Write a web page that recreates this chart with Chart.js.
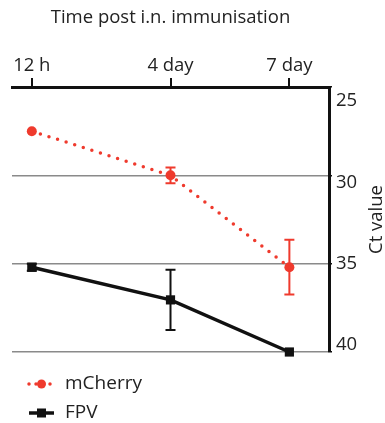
<!DOCTYPE html>
<html>
<head>
<meta charset="utf-8">
<script src="https://cdn.jsdelivr.net/npm/chart.js@4"></script>
<style>
  html, body { margin: 0; padding: 0; background: #fff; }
  #wrap { width: 385px; height: 423px; }
</style>
</head>
<body>
<div id="wrap"><canvas id="myChart"></canvas></div>
<script>
// time points in days (12 h = 0.5 day)
const timeDays = [0.5, 4, 7];
const timeLabels = ['12 h', '4 day', '7 day'];
const yTicks = [25, 30, 35, 40];

// Ct values
const mCherry = [27.5, 30.0, 35.2];
const mCherryErr = [0, 0.45, 1.55];
const fpv = [35.2, 37.05, 40.0];
const fpvErr = [0.2, 1.7, 0];

const red = '#ef3a2d';
const font = "'Open Sans', sans-serif";
const textColor = '#222';

// error bars drawn through the scales
const errorBars = {
    id: 'errorBars',
    afterDatasetsDraw(chart) {
        const ctx = chart.ctx;
        const x = chart.scales.x, y = chart.scales.y;
        chart.data.datasets.forEach(ds => {
            ctx.save();
            ctx.strokeStyle = ds.borderColor;
            ctx.lineWidth = 2;
            ds.data.forEach((p, i) => {
                const e = ds.errors[i];
                if (!e) return;
                const px = x.getPixelForValue(p.x);
                const y1 = y.getPixelForValue(p.y - e);
                const y2 = y.getPixelForValue(p.y + e);
                ctx.beginPath();
                ctx.moveTo(px, y1); ctx.lineTo(px, y2);
                ctx.moveTo(px - 5, y1); ctx.lineTo(px + 5, y1);
                ctx.moveTo(px - 5, y2); ctx.lineTo(px + 5, y2);
                ctx.stroke();
            });
            ctx.restore();
        });
    }
};

// right axis labels sit a bit inside the range in the original, title reads upward
const rightAxisText = {
    id: 'rightAxisText',
    afterDraw(chart) {
        const ctx = chart.ctx;
        const y = chart.scales.y;
        const area = chart.chartArea;
        ctx.save();
        ctx.fillStyle = textColor;
        ctx.font = '18.5px ' + font;
        ctx.textBaseline = 'middle';
        ctx.textAlign = 'left';
        const first = y.getPixelForValue(yTicks[0]) + 14;
        const last = y.getPixelForValue(yTicks[yTicks.length - 1]) - 7;
        yTicks.forEach((v, i) => {
            const py = first + (last - first) * i / (yTicks.length - 1);
            ctx.fillText(String(v), area.right + 7, py);
        });
        ctx.translate(377, (area.top + area.bottom) / 2);
        ctx.rotate(-Math.PI / 2);
        ctx.textAlign = 'center';
        ctx.fillText('Ct value', 0, 0);
        ctx.restore();
    }
};

// legend stacked under the plot, line + marker like the datasets
const stackLegend = {
    id: 'stackLegend',
    afterDraw(chart) {
        const ctx = chart.ctx;
        ctx.save();
        chart.data.datasets.forEach((ds, i) => {
            const cy = 384 + i * 29;
            ctx.strokeStyle = ds.borderColor;
            ctx.fillStyle = ds.borderColor;
            ctx.lineWidth = ds.borderWidth;
            ctx.lineCap = ds.borderCapStyle || 'butt';
            ctx.setLineDash(ds.legendDash || []);
            ctx.beginPath();
            ctx.moveTo(29, cy); ctx.lineTo(54, cy);
            ctx.stroke();
            ctx.setLineDash([]);
            if (ds.pointStyle === 'rect') {
                ctx.fillRect(37, cy - 4.5, 9, 9);
            } else {
                ctx.beginPath();
                ctx.arc(41.5, cy, 4.5, 0, Math.PI * 2);
                ctx.fill();
            }
            ctx.fillStyle = textColor;
            ctx.font = '19px ' + font;
            ctx.textBaseline = 'middle';
            ctx.fillText(ds.label, 65, cy);
        });
        ctx.restore();
    }
};

const ctx = document.getElementById('myChart');
const myChart = new Chart(ctx, {
    type: 'line',
    data: {
        datasets: [{
            label: 'mCherry',
            data: timeDays.map((t, i) => ({ x: t, y: mCherry[i] })),
            errors: mCherryErr,
            borderColor: red,
            backgroundColor: red,
            borderWidth: 3.5,
            borderDash: [0, 9],
            legendDash: [0, 7],
            borderCapStyle: 'round',
            pointStyle: 'circle',
            pointRadius: 5,
            pointBorderWidth: 0,
            clip: false
        },
        {
            label: 'FPV',
            data: timeDays.map((t, i) => ({ x: t, y: fpv[i] })),
            errors: fpvErr,
            borderColor: '#111',
            backgroundColor: '#111',
            borderWidth: 3.5,
            pointStyle: 'rect',
            pointRadius: 6.5,
            pointBorderWidth: 0,
            clip: false
        }]
    },
    options: {
        responsive: true,
        maintainAspectRatio: false,
        animation: false,
        layout: { padding: { left: 12, bottom: 71, top: 0, right: 0 } },
        scales: {
            x: {
                type: 'linear',
                position: 'top',
                min: 0,
                max: 8,
                afterBuildTicks: scale => {
                    scale.ticks = timeDays.map(v => ({ value: v }));
                },
                afterFit: scale => { scale.height = 87; },
                ticks: {
                    callback: (val) => timeLabels[timeDays.indexOf(val)],
                    color: textColor,
                    font: { family: font, size: 18.5 },
                    padding: 1,
                    maxRotation: 0,
                    autoSkip: false
                },
                grid: {
                    drawOnChartArea: false,
                    color: '#111',
                    lineWidth: 2,
                    tickLength: 9
                },
                border: { color: '#111', width: 3 },
                title: {
                    display: true,
                    text: 'Time post i.n. immunisation',
                    color: textColor,
                    font: { family: font, size: 18.5 },
                    padding: { top: 7, bottom: 9 }
                }
            },
            y: {
                position: 'right',
                reverse: true,
                min: 25,
                max: 40,
                afterBuildTicks: scale => {
                    scale.ticks = yTicks.map(v => ({ value: v }));
                },
                afterFit: scale => { scale.width = 56; },
                ticks: { display: false },
                grid: {
                    color: c => c.tick && c.tick.value === 25 ? 'rgba(0,0,0,0)' : '#8a8a8a',
                    lineWidth: 1.5,
                    tickColor: '#111',
                    tickLength: 3
                },
                border: { color: '#111', width: 3 }
            }
        },
        plugins: {
            legend: { display: false },
            tooltip: { enabled: false }
        }
    },
    plugins: [errorBars, rightAxisText, stackLegend]
});
</script>
</body>
</html>
